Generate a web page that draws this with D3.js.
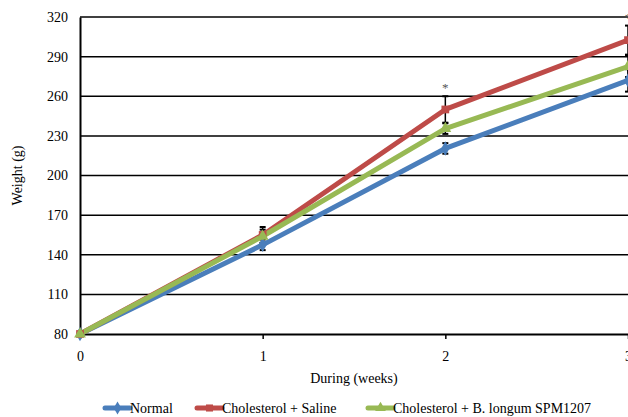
<!DOCTYPE html>
<html>
<head>
<meta charset="utf-8">
<script src="https://cdn.jsdelivr.net/npm/d3@7"></script>
<style>
	body { margin: 0; background: #fff; }
	svg { display: block; }
	svg text { font-family: "Liberation Serif", "DejaVu Serif", serif; }
	.tick text { font-size: 14px; fill: #000; }
	.label { font-size: 14px; fill: #000; }
</style>
</head>
<body>
<div id="chart"></div>
<script>
const weeks = [0, 1, 2, 3];
const yTicks = [80, 110, 140, 170, 200, 230, 260, 290, 320];
const seriesNames = ["Normal", "Cholesterol + Saline", "Cholesterol + B. longum SPM1207"];
const normal = [80, 147.5, 220.5, 272];
const saline = [80, 155, 250, 302.5];
const longum = [80, 154, 235.5, 282.5];
const normalErr = [0, 4, 4, 8.5];
const salineErr = [0, 6, 10, 11];
const longumErr = [0, 5, 4, 8];
const starWeeks = [2, 3];
const colors = ["#4a7ebb", "#be4b48", "#98b954"];

const width = 628, height = 417;
const margin = { top: 17, right: 0, bottom: 83, left: 80 };
const serif = "'Liberation Serif', 'DejaVu Serif', serif";

const svg = d3.select("#chart").append("svg")
	.attr("width", width)
	.attr("height", height);

const x = d3.scaleLinear().domain([0, 3]).range([margin.left, width - margin.right]);
const y = d3.scaleLinear().domain([80, 320]).range([height - margin.bottom, margin.top]);

// gridlines
svg.append("g")
	.selectAll("line")
	.data(yTicks.slice(1))
	.enter().append("line")
	.attr("x1", x(0)).attr("x2", x(3))
	.attr("y1", d => y(d)).attr("y2", d => y(d))
	.attr("stroke", "#000").attr("stroke-width", 1.5);

// y axis
const yAxis = svg.append("g")
	.attr("transform", "translate(" + x(0) + ",0)")
	.call(d3.axisLeft(y).tickValues(yTicks).tickSize(0).tickPadding(12))
	.attr("font-family", serif);
yAxis.select(".domain").attr("stroke", "#000").attr("stroke-width", 2);

// x axis
const xAxis = svg.append("g")
	.attr("transform", "translate(0," + y(80) + ")")
	.call(d3.axisBottom(x).tickValues(weeks).tickFormat(d3.format("d")).tickSizeInner(5).tickSizeOuter(0).tickPadding(12))
	.attr("font-family", serif);
xAxis.select(".domain").attr("stroke", "#000").attr("stroke-width", 2);
xAxis.selectAll(".tick line").attr("stroke", "#000").attr("stroke-width", 1.5);

// axis titles
svg.append("text")
	.classed("label", true)
	.attr("x", (x(0) + x(3)) / 2)
	.attr("y", 383)
	.attr("text-anchor", "middle")
	.text("During (weeks)");
svg.append("text")
	.classed("label", true)
	.attr("transform", "rotate(-90)")
	.attr("x", -(y(80) + y(320)) / 2)
	.attr("y", 22)
	.attr("text-anchor", "middle")
	.text("Weight (g)");

const data = [normal, saline, longum];
const errs = [normalErr, salineErr, longumErr];

// error bars
for (let i = 0; i < data.length; i++) {
	const g = svg.append("g");
	weeks.forEach((w, j) => {
		if (errs[i][j] === 0) return;
		const top = y(data[i][j] + errs[i][j]);
		const bot = y(data[i][j] - errs[i][j]);
		g.append("line")
			.attr("x1", x(w)).attr("x2", x(w))
			.attr("y1", top).attr("y2", bot)
			.attr("stroke", "#000").attr("stroke-width", 1.5);
		[top, bot].forEach(v => {
			g.append("line")
				.attr("x1", x(w) - 3).attr("x2", x(w) + 3)
				.attr("y1", v).attr("y2", v)
				.attr("stroke", "#000").attr("stroke-width", 2);
		});
	});
}

// lines
const line = d3.line()
	.x((d, j) => x(weeks[j]))
	.y(d => y(d));
for (let i = 0; i < data.length; i++) {
	svg.append("path")
		.datum(data[i])
		.attr("d", line)
		.attr("fill", "none")
		.attr("stroke", colors[i])
		.attr("stroke-width", 5)
		.attr("stroke-linejoin", "round");
}

// markers
const markerTypes = [d3.symbolDiamond, d3.symbolSquare, d3.symbolTriangle];
for (let i = 0; i < data.length; i++) {
	svg.append("g").selectAll("path")
		.data(data[i])
		.enter().append("path")
		.attr("transform", (d, j) => "translate(" + x(weeks[j]) + "," + y(d) + ")")
		.attr("d", d3.symbol().type(markerTypes[i]).size(60))
		.attr("fill", colors[i]);
}

// significance marks
svg.append("g").selectAll("text")
	.data(starWeeks)
	.enter().append("text")
	.attr("x", d => x(d))
	.attr("y", d => y(saline[d] + salineErr[d]) - 4)
	.attr("text-anchor", "middle")
	.attr("fill", "#555")
	.style("font-size", "13px")
	.text("*");

// legend
const legendX = [105, 197, 368];
const legend = svg.append("g");
seriesNames.forEach((name, i) => {
	const item = legend.append("g").attr("transform", "translate(" + legendX[i] + ",408)");
	item.append("line")
		.attr("x1", 0).attr("x2", 25)
		.attr("stroke", colors[i]).attr("stroke-width", 5)
		.attr("stroke-linecap", "round");
	item.append("path")
		.attr("transform", "translate(12.5,0)")
		.attr("d", d3.symbol().type(markerTypes[i]).size(50))
		.attr("fill", colors[i]);
	item.append("text")
		.classed("label", true)
		.attr("x", 25)
		.attr("y", 5)
		.text(name);
});
</script>
</body>
</html>
